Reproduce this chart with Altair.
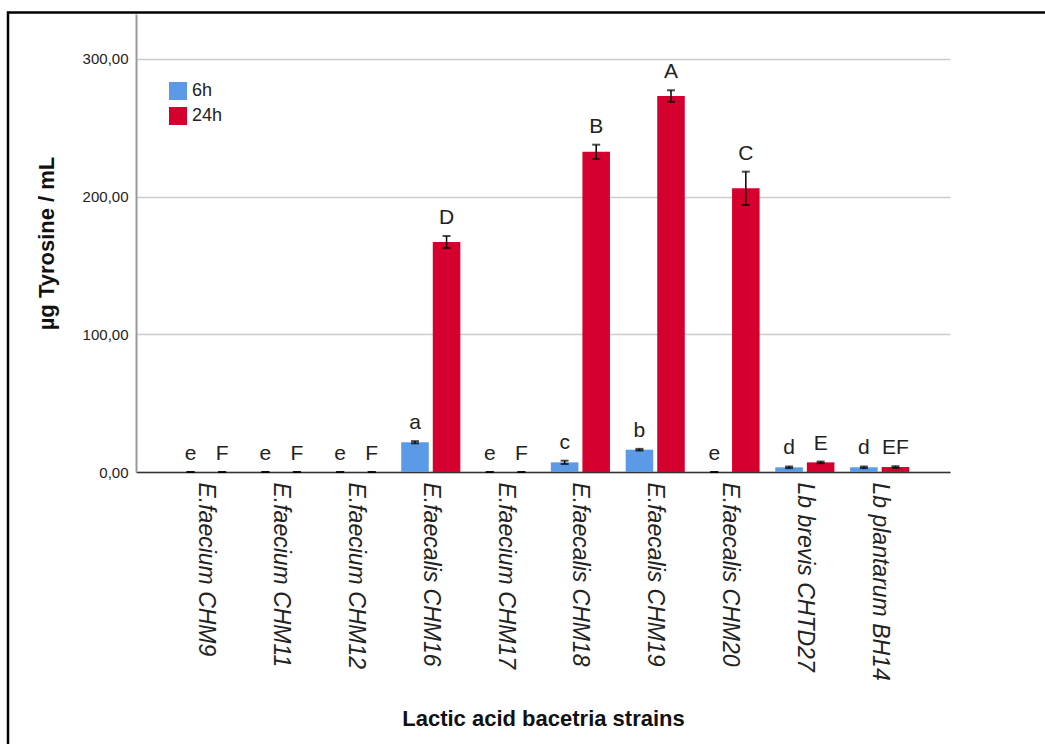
import altair as alt
import pandas as pd

# Strains on the x axis, in drawing order
strains = [
    "E.faecium CHM9", "E.faecium CHM11", "E.faecium CHM12", "E.faecalis CHM16",
    "E.faecium CHM17", "E.faecalis CHM18", "E.faecalis CHM19", "E.faecalis CHM20",
    "Lb brevis CHTD27", "Lb plantarum BH14",
]
times = ["6h", "24h"]

# Mean tyrosine release (µg/mL) and error (±) per incubation time
mean_6h = [0.0, 0.0, 0.0, 21.6, 0.0, 7.0, 16.2, 0.0, 3.4, 3.4]
err_6h = [0.0, 0.0, 0.0, 0.8, 0.0, 1.2, 0.6, 0.0, 0.6, 0.6]
letters_6h = ["e", "e", "e", "a", "e", "c", "b", "e", "d", "d"]

mean_24h = [0.0, 0.0, 0.0, 167.0, 0.0, 232.5, 273.0, 206.0, 7.0, 3.6]
err_24h = [0.0, 0.0, 0.0, 4.4, 0.0, 5.2, 4.2, 12.1, 0.6, 0.6]
letters_24h = ["F", "F", "F", "D", "F", "B", "A", "C", "E", "EF"]

y_ticks = [0, 100, 200, 300]
colors = ["#5a9ae6", "#d6002f"]

rows = []
for i, s in enumerate(strains):
    rows.append({"strain": s, "time": "6h", "mean": mean_6h[i], "err": err_6h[i], "letter": letters_6h[i]})
    rows.append({"strain": s, "time": "24h", "mean": mean_24h[i], "err": err_24h[i], "letter": letters_24h[i]})
df = pd.DataFrame(rows)
df["lo"] = df["mean"] - df["err"]
df["hi"] = df["mean"] + df["err"]

FONT = "Liberation Sans"

x = alt.X(
    "strain:N", sort=strains,
    scale=alt.Scale(paddingInner=0.21, paddingOuter=0.545),
    axis=alt.Axis(
        title="Lactic acid bacetria strains",
        labelAngle=90, labelAlign="left", labelBaseline="middle",
        labelFontStyle="italic", labelFontSize=23, labelPadding=10, labelLimit=400,
        labelColor="#222", ticks=False, domainColor="#333", domainWidth=1.5,
        titleFontSize=22, titleFontWeight="bold", titleColor="#111",
        titleX=407, titleY=246, titleAlign="center", titleBaseline="middle",
    ),
)
xoff = alt.XOffset("time:N", sort=times, scale=alt.Scale(paddingInner=0.127))
y_scale = alt.Scale(domain=[0, 332.6], nice=False)

base = alt.Chart(df)

bars = base.mark_bar().encode(
    x=x,
    xOffset=xoff,
    y=alt.Y(
        "mean:Q", scale=y_scale,
        axis=alt.Axis(
            title="µg Tyrosine / mL", values=y_ticks,
            labelExpr="replace(format(datum.value, '.2f'), '.', ',')",
            labelFontSize=15, labelColor="#222", labelPadding=8, ticks=False,
            domainColor="#999", domainWidth=2,
            grid=True, gridColor="#cccccc", gridWidth=1.5,
            titleFontSize=22, titleFontWeight="bold", titleColor="#111",
            titleX=-90, titleY=229, titleAngle=270,
            titleAlign="center", titleBaseline="middle",
        ),
    ),
    color=alt.Color(
        "time:N", sort=times,
        scale=alt.Scale(domain=times, range=colors),
        legend=alt.Legend(
            title=None, orient="none", legendX=33, legendY=68,
            symbolType="square", symbolSize=324, symbolStrokeWidth=0,
            symbolOpacity=1, labelFontSize=18, labelColor="#222",
            labelOffset=5, rowPadding=7, padding=0,
        ),
    ),
)

err_line = base.mark_rule(color="black", strokeWidth=1.5).encode(
    x=alt.X("strain:N", sort=strains), xOffset=xoff,
    y=alt.Y("lo:Q", scale=y_scale), y2="hi:Q",
)
cap_hi = base.mark_tick(color="black", thickness=2, size=8).encode(
    x=alt.X("strain:N", sort=strains), xOffset=xoff, y=alt.Y("hi:Q", scale=y_scale),
)
cap_lo = base.mark_tick(color="black", thickness=2, size=8).encode(
    x=alt.X("strain:N", sort=strains), xOffset=xoff, y=alt.Y("lo:Q", scale=y_scale),
)
letters = base.mark_text(fontSize=21, color="#222", baseline="alphabetic", dy=-12, font=FONT).encode(
    x=alt.X("strain:N", sort=strains), xOffset=xoff,
    y=alt.Y("hi:Q", scale=y_scale), text="letter:N",
)

# Outer border around the figure
frame = alt.Chart(pd.DataFrame({"k": [0]})).mark_rect(
    fill="transparent", stroke="black", strokeWidth=2.5
).encode(
    x=alt.value(-128), x2=alt.value(940), y=alt.value(-1.5), y2=alt.value(770)
)

chart = alt.layer(bars, err_line, cap_hi, cap_lo, letters, frame).properties(
    width=814, height=458,
    autosize=alt.AutoSizeParams(type="none"),
    padding={"left": 136, "top": 14, "right": 95, "bottom": 272},
    background="white",
).configure(
    font=FONT,
).configure_view(
    stroke=None,
)

chart.save("out.html", embed_options={"renderer": "svg", "actions": False})
